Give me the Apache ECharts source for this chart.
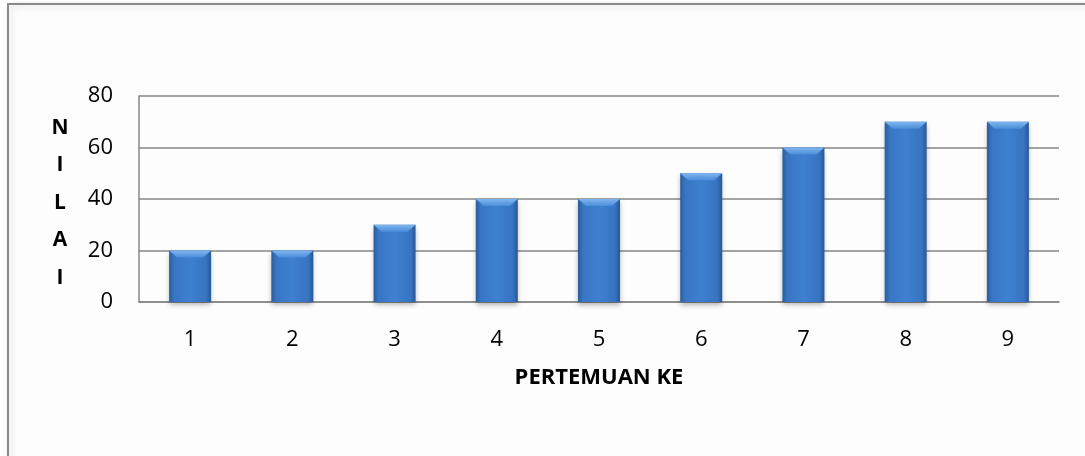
<!DOCTYPE html>
<html lang="en">
<head>
    <meta charset="UTF-8">
    <title>nilai</title>
    <script src="https://cdn.jsdelivr.net/npm/echarts@6/dist/echarts.min.js"></script>
    <style>
        body { margin: 0; background: #fff; }
    </style>
</head>
<body>
<div id="chart" style="width: 1085px;height:456px;"></div>
<script>
    let pertemuan = ['1', '2', '3', '4', '5', '6', '7', '8', '9']
    let nilai = [20, 20, 30, 40, 40, 50, 60, 70, 70]
    let yTicks = [0, 20, 40, 60, 80]
    let judulY = 'N\nI\nL\nA\nI'

    let chart = echarts.init(document.getElementById('chart'));

    let font = 'Open Sans, Noto Sans, sans-serif';

    option = {
        animation: false,
        backgroundColor: '#fff',
        graphic: [{
            // bingkai luar
            type: 'rect',
            shape: { x: 8, y: 4, width: 1100, height: 470 },
            style: {
                fill: '#fdfdfd',
                stroke: '#8a8a8a',
                lineWidth: 2,
                shadowBlur: 6,
                shadowColor: 'rgba(0,0,0,0.15)',
                shadowOffsetX: 2,
                shadowOffsetY: 2
            },
            z: -10
        }, {
            // judul sumbu Y (huruf tersusun)
            type: 'text',
            x: 60,
            y: 203,
            style: {
                text: judulY,
                fontFamily: font,
                fontSize: 21,
                fontWeight: 'bold',
                fill: '#000',
                lineHeight: 37.5,
                align: 'center',
                verticalAlign: 'middle'
            }
        }],
        grid: {
            left: 139,
            top: 96,
            width: 920,
            height: 206
        },
        xAxis: {
            type: 'category',
            data: pertemuan,
            name: 'PERTEMUAN KE',
            nameLocation: 'middle',
            nameGap: 65,
            nameTextStyle: { fontFamily: font, fontSize: 22, fontWeight: 'bold', color: '#000' },
            axisLine: { lineStyle: { color: '#868686', width: 1.5 } },
            axisTick: { show: false },
            axisLabel: { fontFamily: font, fontSize: 22, color: '#000', margin: 27 }
        },
        yAxis: {
            type: 'value',
            min: yTicks[0],
            max: yTicks[yTicks.length - 1],
            interval: 20,
            axisLine: { show: true, lineStyle: { color: '#868686', width: 1.5 } },
            axisTick: { show: false },
            splitLine: { lineStyle: { color: '#868686', width: 1.5 } },
            axisLabel: { fontFamily: font, fontSize: 22, color: '#000', margin: 26 }
        },
        series: [{
            type: 'bar',
            data: nilai,
            barWidth: 42,
            itemStyle: {
                color: {
                    type: 'linear', x: 0, y: 0, x2: 1, y2: 0,
                    colorStops: [
                        { offset: 0, color: '#2b5c9c' },
                        { offset: 0.12, color: '#3876c4' },
                        { offset: 0.5, color: '#3e80d0' },
                        { offset: 0.88, color: '#3774c2' },
                        { offset: 1, color: '#295792' }
                    ]
                },
                shadowBlur: 5,
                shadowColor: 'rgba(0,0,0,0.3)',
                shadowOffsetY: 3
            }
        }, {
            // bevel atas batang
            type: 'pictorialBar',
            data: nilai,
            symbol: 'path://M0,0 L42,0 L34,7 L8,7 Z',
            symbolSize: [42, 7],
            symbolPosition: 'end',
            z: 3,
            itemStyle: {
                color: {
                    type: 'linear', x: 0, y: 0, x2: 0, y2: 1,
                    colorStops: [
                        { offset: 0, color: '#7fb6ee' },
                        { offset: 1, color: '#4b8ddb' }
                    ]
                }
            }
        }]
    };
    chart.setOption(option);
</script>
</body>
</html>
